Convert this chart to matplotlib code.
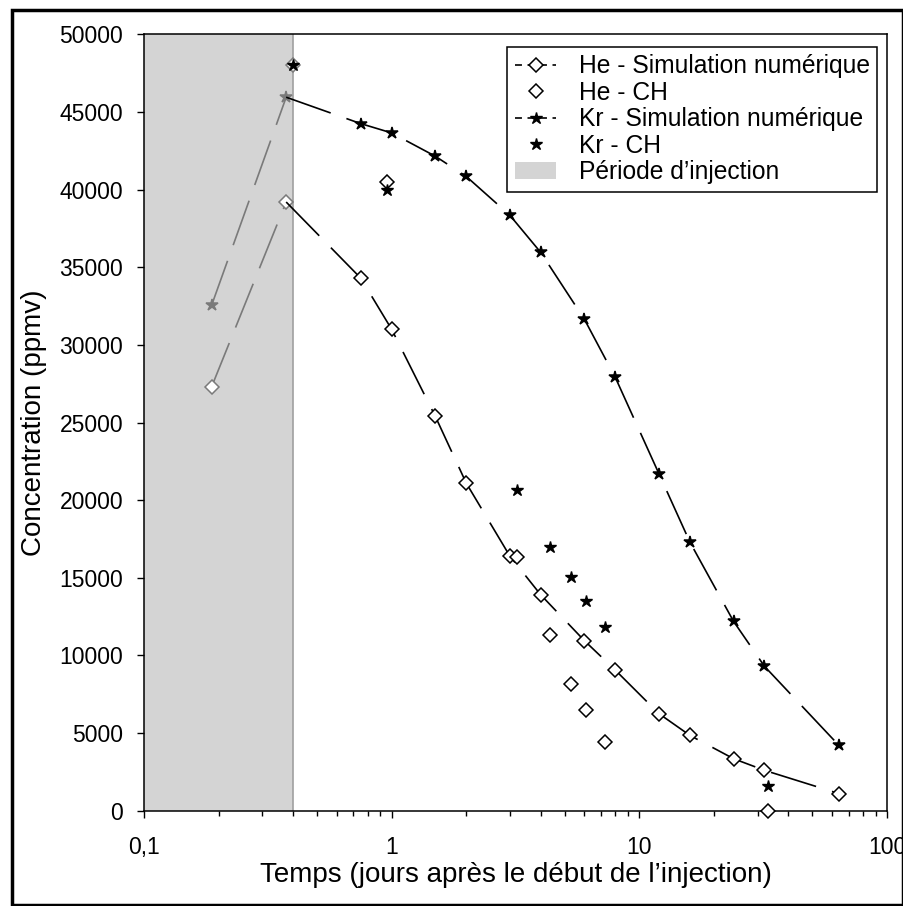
import numpy as np
import matplotlib
matplotlib.use("Agg")
import matplotlib.pyplot as plt
from matplotlib.lines import Line2D
from matplotlib.patches import Patch, Rectangle
from matplotlib.ticker import FixedLocator, FixedFormatter, NullFormatter

plt.rcParams["font.family"] = ["Liberation Sans", "DejaVu Sans"]
plt.rcParams["lines.scale_dashes"] = False

# simulation output (days after start of injection, ppmv)
t_sim = [0.1875, 0.375, 0.75, 1, 1.5, 2, 3, 4, 6, 8, 12, 16, 24, 32, 64]
he_sim = [27300, 39200, 34300, 31000, 25400, 21100, 16400, 13900, 10950,
          9050, 6250, 4850, 3350, 2600, 1100]
kr_sim = [32550, 45950, 44250, 43650, 42150, 40850, 38350, 35950, 31650,
          27900, 21700, 17300, 12200, 9300, 4200]

# field measurements (CH)
t_ch = [0.4, 0.96, 3.2, 4.35, 5.3, 6.1, 7.3, 33]
he_ch = [48000, 40500, 16350, 11300, 8150, 6500, 4450, 0]
kr_ch = [48000, 40000, 20650, 17000, 15070, 13520, 11800, 1600]

t_inj = (0.1, 0.4)
x_ticks = [0.1, 1, 10, 100]
x_ticklabels = ["0,1", "1", "10", "100"]
y_ticks = list(range(0, 50001, 5000))

GREY = "#7a7a7a"
DASH = (0, (34, 12))
LW = 1.2

fig = plt.figure(figsize=(9.04, 9.06), dpi=100)
ax = fig.add_axes([0.1593, 0.1052, 0.8219, 0.8569])

ax.axvspan(*t_inj, facecolor="#d4d4d4", edgecolor="none", zorder=0)
ax.axvline(t_inj[1], color="#a0a0a0", lw=1.2, zorder=0.5)

# grey part of the simulation = inside injection period
for y, mk, ms in [(he_sim, "D", 7.5), (kr_sim, "*", 9)]:
    ax.plot(t_sim[:2], y[:2], color=GREY, lw=LW, ls=DASH,
            marker=mk, ms=ms, mfc="white" if mk == "D" else GREY,
            mec=GREY, mew=1.1, zorder=2)
    ax.plot(t_sim[1:], y[1:], color="black", lw=LW, ls=DASH, zorder=2)
    ax.plot(t_sim[2:], y[2:], ls="none", marker=mk, ms=ms,
            mfc="white" if mk == "D" else "black", mec="black", mew=1.1,
            zorder=3)

# measured points
ax.plot(t_ch[:1], he_ch[:1], ls="none", marker="D", ms=7.5, mfc="white",
        mec=GREY, mew=1.1, zorder=3, clip_on=False)
ax.plot(t_ch[1:], he_ch[1:], ls="none", marker="D", ms=7.5, mfc="white",
        mec="black", mew=1.1, zorder=3, clip_on=False)
ax.plot(t_ch, kr_ch, ls="none", marker="*", ms=9, mfc="black",
        mec="black", zorder=4, clip_on=False)

ax.set_xscale("log")
ax.set_xlim(0.1, 100)
ax.set_ylim(0, 50000)
ax.xaxis.set_major_locator(FixedLocator(x_ticks))
ax.xaxis.set_major_formatter(FixedFormatter(x_ticklabels))
ax.xaxis.set_minor_formatter(NullFormatter())
ax.set_yticks(y_ticks)
ax.set_yticklabels([str(v) for v in y_ticks])
ax.tick_params(axis="y", which="major", direction="out", length=5, width=1,
               labelsize=16.5, pad=10)
ax.tick_params(axis="x", which="major", direction="out", length=5, width=1,
               labelsize=16.5, pad=13)
ax.tick_params(axis="x", which="minor", direction="out", length=3.5, width=1)
for s in ax.spines.values():
    s.set_linewidth(1.1)

ax.set_xlabel("Temps (jours après le début de l’injection)", fontsize=20)
ax.set_ylabel("Concentration (ppmv)", fontsize=20)
ax.xaxis.set_label_coords(0.5, -0.066)
ax.yaxis.set_label_coords(-0.131, 0.5)

handles = [
    Line2D([], [], color="black", lw=LW, ls=(0, (5, 4)), marker="D", ms=7.5,
           mfc="white", mec="black", mew=1.1),
    Line2D([], [], ls="none", marker="D", ms=7.5, mfc="white", mec="black",
           mew=1.1),
    Line2D([], [], color="black", lw=LW, ls=(0, (5, 4)), marker="*", ms=9,
           mfc="black", mec="black"),
    Line2D([], [], ls="none", marker="*", ms=9, mfc="black", mec="black"),
    Patch(facecolor="#d4d4d4", edgecolor="none"),
]
labels = ["He - Simulation numérique", "He - CH", "Kr - Simulation numérique",
          "Kr - CH", "Période d’injection"]
leg = ax.legend(handles, labels, loc="upper right",
                bbox_to_anchor=(0.9865, 0.9836), borderaxespad=0,
                fontsize=17.7, handlelength=1.7, handletextpad=0.9,
                labelspacing=0.1, borderpad=0.3, fancybox=False,
                framealpha=1, edgecolor="black")
leg.get_frame().set_linewidth(1.1)

fig.patches.append(Rectangle((0.0133, 0.001), 0.9855, 0.988, fill=False,
                             lw=2.5, edgecolor="black",
                             transform=fig.transFigure))

fig.savefig("out.png", dpi=100)
